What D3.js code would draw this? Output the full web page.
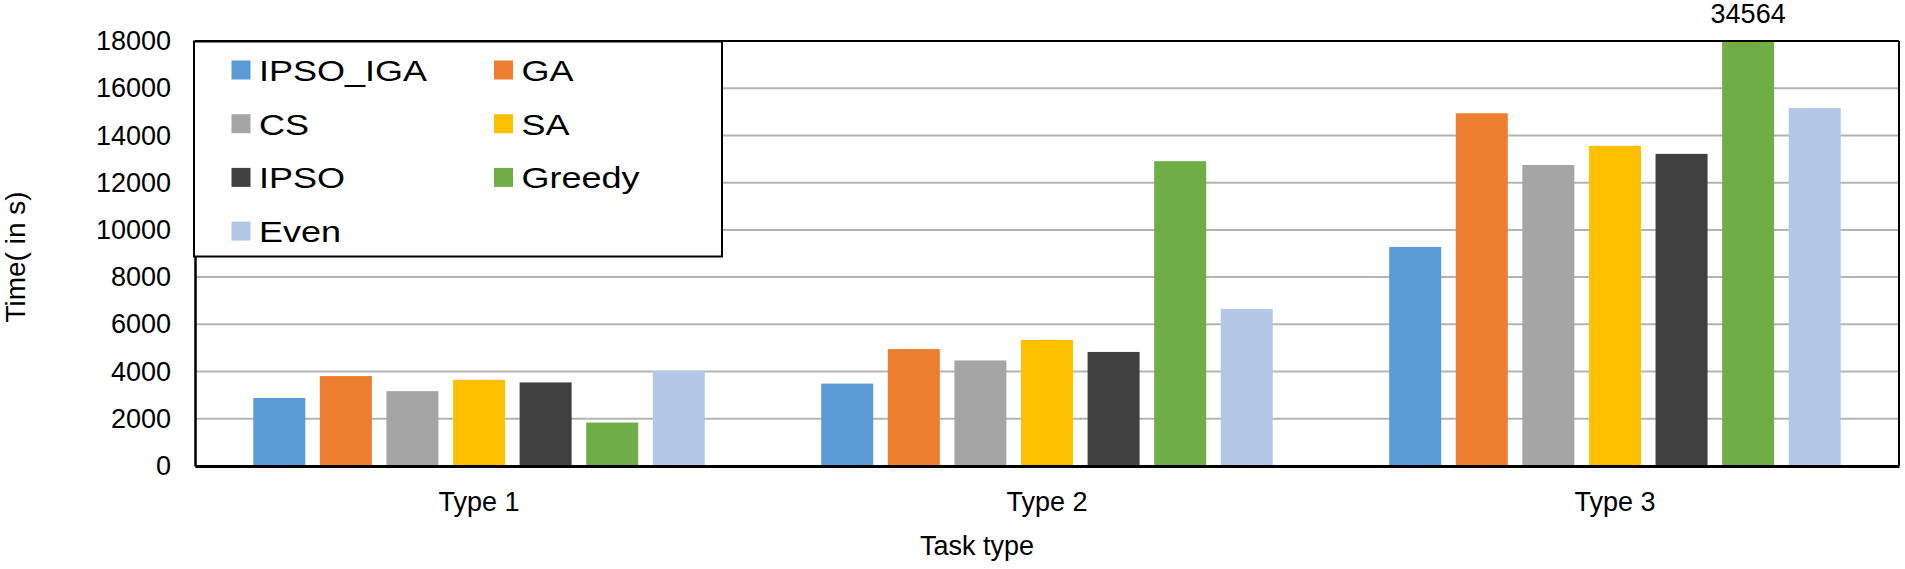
<!DOCTYPE html>
<html>
<head>
<meta charset="utf-8">
<script src="https://cdn.jsdelivr.net/npm/d3@7"></script>
<style>
  body { margin: 0; background: #fff; }
  text { font-family: "Liberation Sans", Arial, sans-serif; fill: #000; }
</style>
</head>
<body>
<div id="chart"></div>
<script>
const categories = ["Type 1", "Type 2", "Type 3"];
const seriesNames = ["IPSO_IGA", "GA", "CS", "SA", "IPSO", "Greedy", "Even"];
const ipsoIga = [2880, 3490, 9280];
const ga = [3810, 4950, 14940];
const cs = [3170, 4470, 12750];
const sa = [3650, 5340, 13560];
const ipso = [3540, 4830, 13220];
const greedy = [1840, 12910, 34564];
const even = [4030, 6650, 15160];
const yTicks = [0, 2000, 4000, 6000, 8000, 10000, 12000, 14000, 16000, 18000];
const colors = ["#5b9bd5", "#ed7d31", "#a5a5a5", "#ffc000", "#404040", "#70ad47", "#b4c7e7"];

const width = 1905;
const height = 569;
const margin = { top: 41, right: 6, bottom: 103, left: 195 };

const seriesValues = [ipsoIga, ga, cs, sa, ipso, greedy, even];
const data = categories.map((c, i) => ({
  category: c,
  values: seriesNames.map((s, j) => ({ name: s, value: seriesValues[j][i] })),
}));

const svg = d3
  .select("#chart")
  .append("svg")
  .attr("width", width)
  .attr("height", height);

/* Scales */
const x0 = d3
  .scaleBand()
  .domain(categories)
  .range([margin.left, width - margin.right])
  .paddingInner(0.205)
  .paddingOuter(0.1026);

const x1 = d3
  .scaleBand()
  .domain(seriesNames)
  .range([0, x0.bandwidth()])
  .paddingInner(0.219);

const y = d3
  .scaleLinear()
  .domain([0, 18000])
  .range([height - margin.bottom, margin.top]);

const color = d3.scaleOrdinal().domain(seriesNames).range(colors);

/* Gridlines */
svg
  .append("g")
  .attr("class", "grid")
  .selectAll("line")
  .data(yTicks.slice(1))
  .enter()
  .append("line")
  .attr("x1", margin.left)
  .attr("x2", width - margin.right)
  .attr("y1", (d) => y(d))
  .attr("y2", (d) => y(d))
  .style("stroke", "#b4b4b4")
  .style("stroke-width", 2);

/* Bars, clipped to the plot area */
svg
  .append("clipPath")
  .attr("id", "plot-clip")
  .append("rect")
  .attr("x", margin.left)
  .attr("y", y(18000))
  .attr("width", width - margin.left - margin.right)
  .attr("height", y(0) - y(18000));

const groups = svg
  .append("g")
  .attr("clip-path", "url(#plot-clip)")
  .selectAll(".bar-group")
  .data(data)
  .enter()
  .append("g")
  .attr("class", "bar-group")
  .attr("transform", (d) => `translate(${x0(d.category)},0)`);

groups
  .selectAll("rect")
  .data((d) => d.values)
  .enter()
  .append("rect")
  .attr("x", (d) => x1(d.name))
  .attr("y", (d) => y(d.value))
  .attr("width", x1.bandwidth())
  .attr("height", (d) => y(0) - y(d.value))
  .style("fill", (d) => color(d.name));

/* Value label for the bar that runs off the top */
data.forEach((d) => {
  d.values
    .filter((v) => v.value > 18000)
    .forEach((v) => {
      svg
        .append("text")
        .attr("x", x0(d.category) + x1(v.name) + x1.bandwidth() / 2)
        .attr("y", y(18000) - 18)
        .attr("text-anchor", "middle")
        .style("font-size", "27px")
        .text(v.value);
    });
});

/* Frame */
svg
  .append("line")
  .attr("x1", margin.left)
  .attr("x2", width - margin.right)
  .attr("y1", y(18000))
  .attr("y2", y(18000))
  .style("stroke", "#000")
  .style("stroke-width", 2);

svg
  .append("line")
  .attr("x1", width - margin.right)
  .attr("x2", width - margin.right)
  .attr("y1", y(18000))
  .attr("y2", y(0))
  .style("stroke", "#000")
  .style("stroke-width", 2);

/* Axes */
const yAxis = d3
  .axisLeft(y)
  .tickValues(yTicks)
  .tickFormat(d3.format("d"))
  .tickSize(0)
  .tickPadding(24);
const yAxisG = svg
  .append("g")
  .attr("transform", `translate(${margin.left},0)`)
  .call(yAxis);
yAxisG.select(".domain").style("stroke", "#000").style("stroke-width", 2.5);
yAxisG.selectAll("text").style("font-size", "27px").attr("font-family", null);

const xAxis = d3.axisBottom(x0).tickSize(0).tickPadding(26);
const xAxisG = svg
  .append("g")
  .attr("transform", `translate(0,${y(0)})`)
  .call(xAxis);
xAxisG.select(".domain").style("stroke", "#000").style("stroke-width", 3);
xAxisG.selectAll("text").style("font-size", "27px").attr("font-family", null);

/* Axis titles */
svg
  .append("text")
  .attr("transform", `translate(25, 257) rotate(-90)`)
  .attr("text-anchor", "middle")
  .style("font-size", "28px")
  .text("Time( in s)");

svg
  .append("text")
  .attr("x", 977)
  .attr("y", 555)
  .attr("text-anchor", "middle")
  .style("font-size", "27px")
  .text("Task type");

/* Legend */
const legend = svg
  .append("g")
  .attr("class", "legend")
  .attr("transform", `translate(${margin.left},${margin.top})`);

legend
  .append("rect")
  .attr("x", -1)
  .attr("y", 0.5)
  .attr("width", 528)
  .attr("height", 215)
  .style("fill", "#fff")
  .style("stroke", "#000")
  .style("stroke-width", 2);

const items = legend
  .selectAll(".legend-item")
  .data(seriesNames)
  .enter()
  .append("g")
  .attr("class", "legend-item")
  .attr(
    "transform",
    (d, i) => `translate(${36.5 + (i % 2) * 262.5},${29 + Math.floor(i / 2) * 53.7})`
  );

items
  .append("rect")
  .attr("x", 0)
  .attr("y", -9.5)
  .attr("width", 19)
  .attr("height", 19)
  .style("fill", (d) => color(d));

items
  .append("text")
  .attr("transform", "translate(27.5, 11) scale(1.2, 1)")
  .style("font-size", "30px")
  .text((d) => d);
</script>
</body>
</html>
